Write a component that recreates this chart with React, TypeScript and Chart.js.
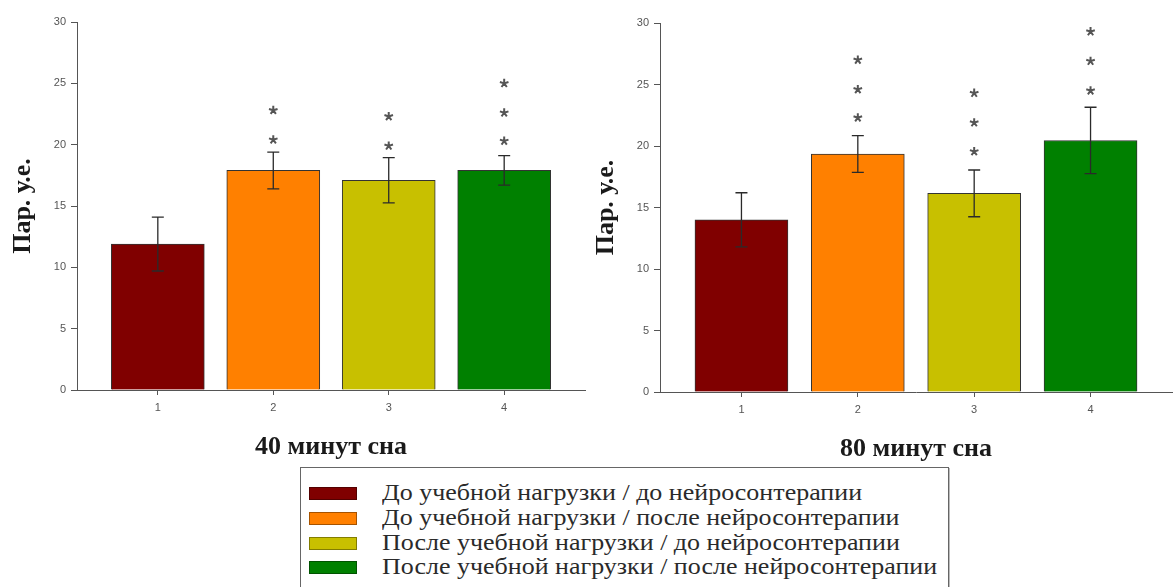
import React, { useEffect, useRef } from "react";
import { Chart, registerables } from "chart.js";

Chart.register(...registerables);

// Group numbers shown under the bars
const categories = ["1", "2", "3", "4"];

// Groups, in legend order
const seriesLabels = [
  "До учебной нагрузки / до нейросонтерапии",
  "До учебной нагрузки / после нейросонтерапии",
  "После учебной нагрузки / до нейросонтерапии",
  "После учебной нагрузки / после нейросонтерапии",
];
const barColors = ["#800000", "#FF8000", "#C8C000", "#008000"];

// 40 minutes of sleep: means, error half-widths, significance marks (y value of each asterisk)
const values40 = [11.9, 17.9, 17.1, 17.9];
const errors40 = [2.2, 1.5, 1.85, 1.2];
const stars40: number[][] = [[], [20.4, 22.8], [19.9, 22.3], [20.3, 22.6, 25.0]];

// 80 minutes of sleep
const values80 = [14.0, 19.35, 16.15, 20.45];
const errors80 = [2.2, 1.5, 1.9, 2.7];
const stars80: number[][] = [[], [22.3, 24.6, 27.0], [19.55, 21.9, 24.3], [24.5, 26.9, 29.3]];

const yTicks = [0, 5, 10, 15, 20, 25, 30];
const yTitle = "Пар. у.е.";
const panelTitles = ["40 минут сна", "80 минут сна"];

const AXIS_COLOR = "#555";

// Draws the error whiskers and the significance asterisks on top of the bars
const errorAndStarsPlugin = {
  id: "errorAndStars",
  afterDatasetsDraw(chart: any) {
    const opts = chart.options.plugins.errorAndStars || {};
    const errors: number[] = opts.errors || [];
    const stars: number[][] = opts.stars || [];
    const ys = chart.scales.y;
    const meta = chart.getDatasetMeta(0);
    const ds = chart.data.datasets[0];
    const ctx = chart.ctx;
    ctx.save();
    meta.data.forEach((bar: any, i: number) => {
      const v = ds.data[i].y;
      const e = errors[i] ?? 0;
      const x = bar.x;
      const yHi = ys.getPixelForValue(v + e);
      const yLo = ys.getPixelForValue(v - e);
      ctx.strokeStyle = "#2a2a2a";
      ctx.lineWidth = 1.3;
      ctx.beginPath();
      ctx.moveTo(x, yLo);
      ctx.lineTo(x, yHi);
      ctx.moveTo(x - 6, yHi);
      ctx.lineTo(x + 6, yHi);
      ctx.moveTo(x - 6, yLo);
      ctx.lineTo(x + 6, yLo);
      ctx.stroke();

      (stars[i] || []).forEach((sv) => {
        const sy = ys.getPixelForValue(sv);
        ctx.strokeStyle = "#555";
        ctx.lineWidth = 2;
        ctx.beginPath();
        for (let k = 0; k < 5; k++) {
          const a = -Math.PI / 2 + (k * 2 * Math.PI) / 5;
          ctx.moveTo(x, sy);
          ctx.lineTo(x + Math.cos(a) * 4.5, sy + Math.sin(a) * 4.5);
        }
        ctx.stroke();
      });
    });
    ctx.restore();
  },
};

type PanelProps = {
  values: number[];
  errors: number[];
  stars: number[][];
  title: string;
  left: number;
  top: number;
  width: number;
  height: number;
  rightPad: number;
};

function Panel({ values, errors, stars, title, left, top, width, height, rightPad }: PanelProps) {
  const ref = useRef<HTMLCanvasElement | null>(null);

  useEffect(() => {
    if (!ref.current) return;
    const tickFont = { family: "'Liberation Sans', Arial, sans-serif", size: 11 };
    const titleFont = { family: "'Liberation Serif', 'Times New Roman', serif", size: 26, weight: "bold" as const };
    const chart = new Chart(ref.current, {
      type: "bar",
      data: {
        datasets: [
          {
            data: values.map((v, i) => ({ x: i + 1, y: v })),
            backgroundColor: barColors,
            borderColor: "#333",
            borderWidth: 1,
            barThickness: 93,
          },
        ],
      },
      options: {
        animation: false,
        responsive: false,
        maintainAspectRatio: false,
        layout: { padding: { left: 0, right: rightPad, top: 22, bottom: 0 } },
        plugins: {
          legend: { display: false },
          tooltip: { enabled: false },
          errorAndStars: { errors, stars },
        } as any,
        scales: {
          x: {
            type: "linear",
            min: 0.3,
            max: 4.7,
            offset: false,
            afterBuildTicks: (s: any) => {
              s.ticks = categories.map((_, i) => ({ value: i + 1 }));
            },
            afterFit: (s: any) => {
              s.height = 73;
            },
            ticks: {
              callback: (v: any) => categories[Number(v) - 1] ?? "",
              font: tickFont,
              color: AXIS_COLOR,
              padding: 6,
              maxRotation: 0,
              autoSkip: false,
            },
            grid: {
              offset: false,
              drawOnChartArea: false,
              drawTicks: true,
              tickLength: 5,
              color: AXIS_COLOR,
            },
            border: { display: true, color: AXIS_COLOR, width: 1 },
            title: {
              display: true,
              text: title,
              font: titleFont,
              color: "#1a1a1a",
              padding: { top: 0, bottom: 0 },
            },
          },
          y: {
            min: 0,
            max: 30,
            afterBuildTicks: (s: any) => {
              s.ticks = yTicks.map((v) => ({ value: v }));
            },
            afterFit: (s: any) => {
              s.width = 77;
            },
            ticks: { font: tickFont, color: AXIS_COLOR, padding: 5 },
            grid: { drawOnChartArea: false, drawTicks: true, tickLength: 6, color: AXIS_COLOR },
            border: { display: true, color: AXIS_COLOR, width: 1 },
            title: {
              display: true,
              text: yTitle,
              font: titleFont,
              color: "#1a1a1a",
              padding: { top: 8, bottom: 0 },
            },
          },
        } as any,
      },
      plugins: [errorAndStarsPlugin],
    });
    return () => chart.destroy();
  }, [values, errors, stars, title, rightPad]);

  return (
    <canvas
      ref={ref}
      width={width}
      height={height}
      style={{ position: "absolute", left, top, width, height }}
    />
  );
}

function Legend() {
  const rowTops = [0, 25, 50, 74];
  return (
    <div
      style={{
        position: "absolute",
        left: 300,
        top: 467,
        width: 647,
        height: 140,
        border: "1px solid #666",
        boxShadow: "1px 1px 0 #bbb",
        background: "#fff",
      }}
    >
      {seriesLabels.map((label, i) => (
        <div key={label} style={{ position: "absolute", left: 0, top: 13 + rowTops[i], height: 24, width: "100%" }}>
          <div
            style={{
              position: "absolute",
              left: 8,
              top: 6,
              width: 46,
              height: 11,
              background: barColors[i],
              border: "1px solid rgba(0,0,0,0.35)",
            }}
          />
          <div
            style={{
              position: "absolute",
              left: 81,
              top: 0,
              whiteSpace: "nowrap",
              fontFamily: "'Liberation Serif', 'Times New Roman', serif",
              fontSize: 23,
              lineHeight: "24px",
              color: "#2a2a2a",
              transformOrigin: "left center",
              transform: "scaleX(1.13)",
            }}
          >
            {label}
          </div>
        </div>
      ))}
    </div>
  );
}

export default function App() {
  return (
    <div
      style={{
        position: "absolute",
        left: 0,
        top: 0,
        width: 1173,
        height: 587,
        overflow: "hidden",
        background: "#fff",
      }}
    >
      <Panel
        values={values40}
        errors={errors40}
        stars={stars40}
        title={panelTitles[0]}
        left={0}
        top={0}
        width={600}
        height={463}
        rightPad={15}
      />
      <Panel
        values={values80}
        errors={errors80}
        stars={stars80}
        title={panelTitles[1]}
        left={583}
        top={1}
        width={590}
        height={464}
        rightPad={1}
      />
      <Legend />
    </div>
  );
}
